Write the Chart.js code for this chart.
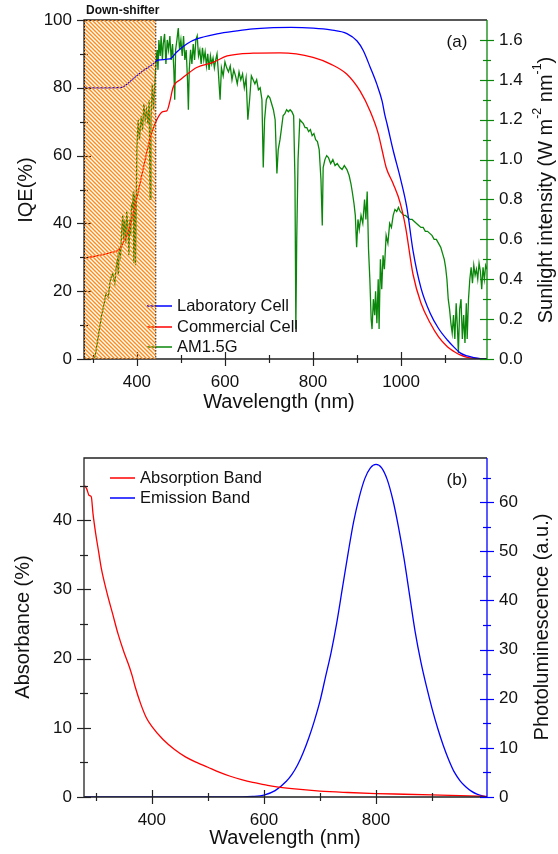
<!DOCTYPE html>
<html>
<head>
<meta charset="utf-8">
<script src="https://cdn.jsdelivr.net/npm/chart.js@4.4.1/dist/chart.umd.min.js"></script>
<style>
html, body { margin: 0; padding: 0; background: #fff; }
canvas { position: absolute; left: 0; }
#chartA { top: 0; }
#chartB { top: 427px; }
</style>
</head>
<body>
<canvas id="chartA" width="558" height="427"></canvas>
<canvas id="chartB" width="558" height="427"></canvas>
<script>
// ---- panel (a): IQE and AM1.5G ----
const labWl  = [280, 340, 365, 375, 391, 414, 437, 448, 475, 490, 514, 536, 582, 627, 664, 700, 750, 800, 840, 877, 900, 914, 930, 945, 957, 963, 968, 982, 998, 1013, 1027, 1045, 1066, 1085, 1105, 1120, 1134, 1150, 1165, 1180, 1195];
const labIqe = [80, 80, 80.1, 80.8, 82.6, 85, 87, 88.2, 88.5, 90.5, 93, 94.4, 95.9, 96.8, 97.4, 97.7, 97.8, 97.6, 97.1, 96, 93.8, 91, 86, 81, 76, 72, 69.4, 61.5, 53.5, 44.7, 32, 21, 13.5, 9, 5.6, 3.5, 1.8, 0.9, 0.4, 0.1, 0];

const comWl  = [280, 345, 360, 368, 380, 390, 400, 410, 420, 430, 445, 459, 468, 475, 482, 500, 514, 536, 573, 605, 664, 725, 800, 840, 877, 907, 930, 948, 957, 966, 982, 998, 1010, 1027, 1045, 1066, 1085, 1105, 1120, 1134, 1150, 1170, 1195];
const comIqe = [29.7, 31.5, 32.3, 34, 37.5, 42, 47.5, 53.5, 59.5, 65, 70.5, 73, 73.2, 76, 80, 82.5, 84, 86, 87.5, 89.4, 90.2, 90.3, 89, 87, 84, 79, 73, 66.5, 61.5, 56.5, 51.7, 46, 39, 25, 16.5, 10.6, 6.5, 3.6, 2.2, 1.2, 0.5, 0.2, 0];

const amWl = [300, 305, 310, 315, 320, 325, 330, 335, 340, 345, 350, 353, 356, 358, 360, 363, 366, 368, 370, 372, 375, 377, 380, 382, 384, 386, 388, 390, 392, 393, 395, 397,
  400, 403, 406, 410, 413, 416, 419, 422, 425, 428, 430, 432, 435, 438, 441, 444, 446, 448, 450, 453, 455, 458, 460, 463, 466, 469, 472, 475, 478, 481, 484, 486, 488, 491, 494, 497,
  500, 503, 506, 509, 512, 515, 517, 519, 522, 525, 528, 531, 534, 537, 540, 543, 546, 549, 552, 555, 558, 561, 564, 567, 570, 573, 576, 579, 582, 585, 589, 592, 596,
  600, 604, 608, 612, 616, 620, 624, 628, 632, 636, 640, 644, 648, 652, 656, 660, 664, 668, 672, 676, 680, 684, 687, 690, 694, 698,
  702, 706, 710, 714, 718, 721, 725, 728, 732, 736, 740, 744, 748, 752, 756, 759, 761, 763, 766, 770, 774, 778, 782, 786, 790, 794, 798,
  802, 806, 810, 814, 818, 821, 823, 827, 831, 835, 840, 845, 850, 855, 861, 866, 871, 877, 882, 886, 889, 893, 896, 899,
  902, 905, 909, 913, 917, 920, 923, 926, 929, 932, 934, 937, 940, 942, 945, 948, 950, 953, 956, 959, 962, 966, 970, 974, 978, 982, 986, 990, 994, 998,
  1002, 1006, 1010, 1015, 1020, 1025, 1030, 1035, 1040, 1045, 1050, 1055, 1060, 1065, 1070, 1075, 1080, 1085, 1090, 1094, 1098,
  1101, 1104, 1107, 1110, 1113, 1116, 1119, 1122, 1125, 1128, 1130, 1133, 1136, 1139, 1142, 1145, 1148, 1150, 1153, 1156, 1159, 1162, 1165, 1168, 1171, 1174, 1177, 1180, 1183, 1186, 1189, 1192, 1195];
const amVal = [0, 0.01, 0.08, 0.15, 0.22, 0.27, 0.33, 0.31, 0.40, 0.43, 0.38, 0.46, 0.50, 0.42, 0.56, 0.52, 0.66, 0.72, 0.60, 0.70, 0.58, 0.74, 0.65, 0.52, 0.70, 0.62, 0.78, 0.75, 0.84, 0.48, 0.82, 0.47,
  1.05, 1.20, 1.10, 1.22, 1.15, 1.28, 1.20, 1.25, 1.18, 1.30, 0.80, 1.20, 1.38, 1.25, 1.40, 1.50, 1.55, 1.45, 1.60, 1.52, 1.62, 1.50, 1.58, 1.63, 1.48, 1.60, 1.55, 1.62, 1.50, 1.58, 1.45, 1.30, 1.55, 1.60, 1.66, 1.55,
  1.60, 1.52, 1.62, 1.50, 1.55, 1.40, 1.25, 1.45, 1.55, 1.48, 1.58, 1.50, 1.60, 1.62, 1.52, 1.55, 1.48, 1.56, 1.50, 1.54, 1.47, 1.53, 1.45, 1.52, 1.48, 1.51, 1.46, 1.50, 1.53, 1.44, 1.30, 1.46, 1.42,
  1.49, 1.46, 1.44, 1.47, 1.40, 1.45, 1.42, 1.38, 1.44, 1.40, 1.43, 1.36, 1.41, 1.20, 1.30, 1.42, 1.40, 1.38, 1.40, 1.35, 1.36, 1.30, 0.96, 1.20, 1.30, 1.32,
  1.31, 1.28, 1.25, 1.20, 0.93, 1.05, 1.10, 1.15, 1.22, 1.23, 1.25, 1.24, 1.25, 1.24, 1.22, 0.90, 0.15, 0.60, 1.00, 1.20, 1.19, 1.18, 1.16, 1.16, 1.14, 1.15, 1.12,
  1.13, 1.10, 1.09, 1.05, 0.90, 0.67, 0.96, 1.00, 1.02, 1.01, 0.98, 1.00, 0.97, 0.98, 0.96, 0.95, 0.97, 0.95, 0.92, 0.88, 0.84, 0.78, 0.72, 0.56,
  0.70, 0.65, 0.72, 0.68, 0.80, 0.70, 0.84, 0.55, 0.40, 0.20, 0.15, 0.30, 0.22, 0.34, 0.18, 0.40, 0.15, 0.50, 0.35, 0.52, 0.45, 0.62, 0.58, 0.68, 0.66, 0.72, 0.75, 0.74, 0.76, 0.74,
  0.73, 0.72, 0.72, 0.71, 0.70, 0.70, 0.69, 0.68, 0.67, 0.66, 0.66, 0.64, 0.64, 0.63, 0.62, 0.60, 0.60, 0.58, 0.56, 0.53, 0.50,
  0.46, 0.40, 0.30, 0.25, 0.18, 0.13, 0.22, 0.10, 0.28, 0.15, 0.03, 0.25, 0.30, 0.10, 0.22, 0.08, 0.28, 0.10, 0.30, 0.40, 0.46, 0.38, 0.47, 0.42, 0.45, 0.40, 0.48, 0.44, 0.35, 0.46, 0.40, 0.47, 0.45];

const xMajorA = [400, 600, 800, 1000];
const xMinorA = [300, 500, 700, 900, 1100];
const iqeMajor = [0, 20, 40, 60, 80, 100];
const iqeMinor = [10, 30, 50, 70, 90];
const sunMajor = [0, 0.2, 0.4, 0.6, 0.8, 1.0, 1.2, 1.4, 1.6];
const sunMinor = [0.1, 0.3, 0.5, 0.7, 0.9, 1.1, 1.3, 1.5];
const shiftBand = [280, 443];

// ---- panel (b): absorption and emission ----
const absWl  = [280, 284, 288, 292, 295, 300, 305, 310, 320, 330, 340, 350, 360, 365, 370, 380, 390, 400, 420, 440, 460, 480, 500, 520, 540, 560, 580, 600, 620, 650, 700, 750, 800, 850, 900, 950, 998];
const absVal = [45, 44.5, 43.6, 43.4, 41, 38, 35.5, 33, 29.5, 26.5, 23.5, 21, 18.8, 17.5, 16, 13.5, 11.5, 10.2, 8.3, 6.9, 5.8, 5.0, 4.3, 3.6, 3.0, 2.5, 2.1, 1.8, 1.5, 1.2, 0.85, 0.65, 0.5, 0.4, 0.3, 0.2, 0.1];

const emWl  = [280, 560, 580, 600, 620, 640, 650, 660, 670, 680, 690, 700, 710, 720, 730, 740, 750, 760, 770, 780, 790, 800, 810, 820, 830, 840, 850, 860, 870, 880, 890, 900, 910, 920, 930, 940, 950, 960, 970, 980, 998];
const emVal = [0, 0, 0.1, 0.4, 1.3, 3.2, 4.6, 6.5, 9, 12, 15.5, 19.5, 24.5, 29.5, 35.5, 42.5, 49.5, 56, 61, 64.8, 67, 67.7, 67, 64.6, 60.5, 55, 48.5, 41, 33.5, 27.5, 22.5, 18, 14, 10.5, 7.5, 5, 3.3, 2.1, 1.2, 0.6, 0];

const xMajorB = [400, 600, 800];
const xMinorB = [300, 500, 700, 900];
const absMajor = [0, 10, 20, 30, 40];
const absMinor = [5, 15, 25, 35, 45];
const plMajor = [0, 10, 20, 30, 40, 50, 60];
const plMinor = [5, 15, 25, 35, 45, 55, 65];

const FONT = "'Liberation Sans', Arial, sans-serif";
const GREEN = '#0a870a';

function zip(xs, ys) {
    return xs.map((x, i) => ({ x: x, y: ys[i] }));
}

function fixTicks(vals) {
    return scale => { scale.ticks = vals.map(v => ({ value: v })); };
}

function drawText(ctx, item) {
    const parts = item.parts || [{ t: item.t }];
    const size = item.size || 20;
    let total = 0;
    parts.forEach(p => {
        ctx.font = (item.bold ? 'bold ' : '') + (p.sup ? size * 0.62 : size) + 'px ' + FONT;
        p.w = ctx.measureText(p.t).width;
        total += p.w;
    });
    ctx.save();
    ctx.translate(item.x, item.y);
    if (item.rot) ctx.rotate(-Math.PI / 2);
    ctx.fillStyle = '#111';
    ctx.textBaseline = 'middle';
    ctx.textAlign = 'left';
    let x = item.align === 'left' ? 0 : -total / 2;
    parts.forEach(p => {
        ctx.font = (item.bold ? 'bold ' : '') + (p.sup ? size * 0.62 : size) + 'px ' + FONT;
        ctx.fillText(p.t, x, p.sup ? -size * 0.42 : 0);
        x += p.w;
    });
    ctx.restore();
}

function framePlugin(cfg) {
    return {
        id: 'frame',
        afterDatasetsDraw(chart) {
            const ctx = chart.ctx, a = chart.chartArea;
            ctx.save();
            ctx.lineWidth = 1.3;
            ctx.strokeStyle = '#222';
            ctx.beginPath();
            ctx.moveTo(a.right, a.top);
            ctx.lineTo(a.left, a.top);
            ctx.lineTo(a.left, a.bottom);
            ctx.lineTo(a.right, a.bottom);
            ctx.stroke();
            ctx.strokeStyle = cfg.rightColor;
            ctx.beginPath();
            ctx.moveTo(a.right, a.top);
            ctx.lineTo(a.right, a.bottom);
            ctx.stroke();

            cfg.marks.forEach(m => {
                const s = chart.scales[m.axis];
                ctx.strokeStyle = m.color || '#222';
                ctx.lineWidth = 1.2;
                [[m.major, 7], [m.minor, 4]].forEach(([vals, len]) => {
                    vals.forEach(v => {
                        const p = Math.round(s.getPixelForValue(v)) + 0.5;
                        ctx.beginPath();
                        if (m.axis === 'x') {
                            ctx.moveTo(p, a.bottom - len);
                            ctx.lineTo(p, a.bottom + len);
                        } else {
                            const e = m.axis === 'y' ? a.left : a.right;
                            ctx.moveTo(e - len, p);
                            ctx.lineTo(e + len, p);
                        }
                        ctx.stroke();
                    });
                });
            });

            // legend
            cfg.legend.forEach(l => {
                const ds = chart.data.datasets[l.ds];
                ctx.strokeStyle = ds.borderColor;
                ctx.lineWidth = 1.5;
                ctx.beginPath();
                ctx.moveTo(l.x, l.y);
                ctx.lineTo(l.x + 25, l.y);
                ctx.stroke();
                drawText(ctx, { t: ds.label, x: l.x + 30, y: l.y, size: 16.5, align: 'left' });
            });

            cfg.texts.forEach(t => drawText(ctx, t));
            ctx.restore();
        },
        afterDraw(chart) {
            if (!cfg.band) return;
            const ctx = chart.ctx, a = chart.chartArea, xs = chart.scales.x;
            const x1 = xs.getPixelForValue(cfg.band[0]);
            const x2 = xs.getPixelForValue(cfg.band[1]);
            const tile = document.createElement('canvas');
            tile.width = 4; tile.height = 4;
            const tc = tile.getContext('2d');
            tc.strokeStyle = 'rgb(255,140,25)';
            tc.lineWidth = 1.4;
            tc.beginPath();
            tc.moveTo(-1, -1); tc.lineTo(5, 5);
            tc.moveTo(-1, 3); tc.lineTo(1, 5);
            tc.moveTo(3, -1); tc.lineTo(5, 1);
            tc.stroke();
            ctx.save();
            ctx.fillStyle = ctx.createPattern(tile, 'repeat');
            ctx.fillRect(x1, a.top, x2 - x1, a.bottom - a.top);
            ctx.strokeStyle = '#222';
            ctx.lineWidth = 1;
            ctx.setLineDash([1.5, 1.5]);
            ctx.beginPath();
            ctx.moveTo(x1 + 0.5, a.top); ctx.lineTo(x1 + 0.5, a.bottom);
            ctx.moveTo(x2, a.top); ctx.lineTo(x2, a.bottom);
            ctx.stroke();
            ctx.restore();
        }
    };
}

function tickFont() {
    return { family: FONT, size: 17 };
}

function lineSet(label, wl, vals, color, axis, smooth) {
    return {
        label: label,
        data: zip(wl, vals),
        borderColor: color,
        borderWidth: 1.3,
        pointRadius: 0,
        yAxisID: axis,
        cubicInterpolationMode: smooth ? 'monotone' : 'default',
        tension: 0
    };
}

function axisX(min, max, major, height) {
    return {
        type: 'linear', min: min, max: max,
        grid: { display: false }, border: { display: false },
        ticks: { font: tickFont(), color: '#111', padding: 5, maxRotation: 0, autoSkip: false, callback: v => String(v) },
        afterBuildTicks: fixTicks(major),
        afterFit: s => { s.height = height; }
    };
}

function axisY(pos, min, max, major, width, fmt) {
    return {
        type: 'linear', position: pos, min: min, max: max,
        grid: { display: false }, border: { display: false },
        ticks: { font: tickFont(), color: '#111', padding: 4, callback: fmt },
        afterBuildTicks: fixTicks(major),
        afterFit: s => { s.width = width; }
    };
}

new Chart(document.getElementById('chartA'), {
    type: 'line',
    data: {
        datasets: [
            lineSet('Laboratory Cell', labWl, labIqe, '#0000ff', 'y', true),
            lineSet('Commercial Cell', comWl, comIqe, '#ff0000', 'y', true),
            lineSet('AM1.5G', amWl, amVal, GREEN, 'y2', false)
        ]
    },
    options: {
        responsive: false,
        animation: false,
        layout: { padding: { top: 20, left: 0, right: 0, bottom: 0 } },
        plugins: { legend: { display: false }, tooltip: { enabled: false } },
        scales: {
            x: axisX(280, 1195, xMajorA, 68),
            y: axisY('left', 0, 100, iqeMajor, 84, v => String(v)),
            y2: axisY('right', 0, 1.7, sunMajor, 71, v => v.toFixed(1))
        }
    },
    plugins: [framePlugin({
        rightColor: GREEN,
        band: shiftBand,
        marks: [
            { axis: 'x', major: xMajorA, minor: xMinorA },
            { axis: 'y', major: iqeMajor, minor: iqeMinor },
            { axis: 'y2', major: sunMajor, minor: sunMinor, color: GREEN }
        ],
        legend: [
            { ds: 0, x: 147, y: 306 },
            { ds: 1, x: 147, y: 327 },
            { ds: 2, x: 147, y: 347 }
        ],
        texts: [
            { t: 'IQE(%)', x: 26, y: 190, rot: true },
            { t: 'Wavelength (nm)', x: 279, y: 402 },
            { parts: [{ t: 'Sunlight intensity (W m' }, { t: '-2', sup: true }, { t: ' nm' }, { t: '-1', sup: true }, { t: ')' }], x: 546, y: 190, rot: true },
            { t: '(a)', x: 457, y: 42, size: 17 },
            { t: 'Down-shifter', x: 86, y: 11, size: 12, bold: true, align: 'left' }
        ]
    })]
});

new Chart(document.getElementById('chartB'), {
    type: 'line',
    data: {
        datasets: [
            lineSet('Absorption Band', absWl, absVal, '#ff0000', 'y', true),
            lineSet('Emission Band', emWl, emVal, '#0000ff', 'y2', true)
        ]
    },
    options: {
        responsive: false,
        animation: false,
        layout: { padding: { top: 31, left: 0, right: 0, bottom: 0 } },
        plugins: { legend: { display: false }, tooltip: { enabled: false } },
        scales: {
            x: axisX(279, 998, xMajorB, 57),
            y: axisY('left', 0, 49, absMajor, 84, v => String(v)),
            y2: axisY('right', 0, 69, plMajor, 71, v => String(v))
        }
    },
    plugins: [framePlugin({
        rightColor: '#0000ff',
        marks: [
            { axis: 'x', major: xMajorB, minor: xMinorB },
            { axis: 'y', major: absMajor, minor: absMinor },
            { axis: 'y2', major: plMajor, minor: plMinor, color: '#0000ff' }
        ],
        legend: [
            { ds: 0, x: 110, y: 51 },
            { ds: 1, x: 110, y: 71 }
        ],
        texts: [
            { t: 'Absorbance (%)', x: 23, y: 200, rot: true },
            { t: 'Wavelength (nm)', x: 285, y: 411 },
            { t: 'Photoluminescence (a.u.)', x: 542, y: 200, rot: true },
            { t: '(b)', x: 457, y: 53, size: 17 }
        ]
    })]
});
</script>
</body>
</html>
